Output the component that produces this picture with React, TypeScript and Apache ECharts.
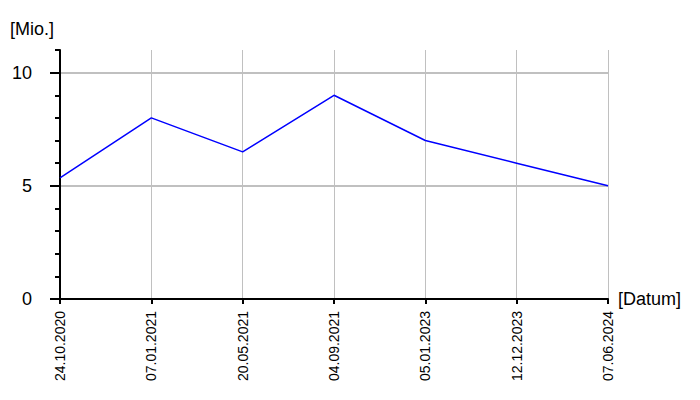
import React, { useEffect, useRef } from "react";
import * as echarts from "echarts";

const categories = ["24.10.2020", "07.01.2021", "20.05.2021", "04.09.2021", "05.01.2023", "12.12.2023", "07.06.2024"];
const values = [5.35, 8, 6.5, 9, 7, 6, 5];
const yMajorTicks = [0, 5, 10];
const yMinorTicks = [1, 2, 3, 4, 6, 7, 8, 9, 11];
const yAxisTitle = "[Mio.]";
const xAxisTitle = "[Datum]";

const FONT = "'Liberation Sans', Arial, sans-serif";

export default function App() {
  const ref = useRef<HTMLDivElement>(null);
  useEffect(() => {
    if (!ref.current) return;
    const chart = echarts.init(ref.current, undefined, { renderer: "svg" });
    chart.setOption({
      animation: false,
      backgroundColor: "#ffffff",
      textStyle: { fontFamily: FONT },
      grid: { left: 60, right: 92, top: 50, bottom: 101, containLabel: false },
      graphic: [
        {
          type: "text",
          left: 10,
          top: 20,
          style: { text: yAxisTitle, font: `18px ${FONT}`, fill: "#000" },
        },
      ],
      xAxis: {
        type: "category",
        data: categories,
        boundaryGap: false,
        name: xAxisTitle,
        nameLocation: "end",
        nameGap: 10,
        nameTextStyle: { fontSize: 18, color: "#000", fontFamily: FONT },
        axisLine: { lineStyle: { color: "#000", width: 2 } },
        axisTick: { show: true, length: 5, lineStyle: { color: "#000", width: 2 } },
        axisLabel: { rotate: 90, margin: 12, fontSize: 14, color: "#000", fontFamily: FONT, interval: 0 },
        splitLine: { show: true, lineStyle: { color: "#c0c0c0", width: 1 } },
      },
      yAxis: [
        {
          type: "value",
          min: 0,
          max: 11,
          interval: 5,
          axisLine: { show: true, lineStyle: { color: "#000", width: 2 } },
          axisTick: { show: true, length: 10, customValues: yMajorTicks, lineStyle: { color: "#000", width: 2 } },
          axisLabel: { customValues: yMajorTicks, margin: 28, fontSize: 18, color: "#000", fontFamily: FONT },
          splitLine: { show: true, lineStyle: { color: "#c0c0c0", width: 2 } },
        },
        {
          type: "value",
          min: 0,
          max: 11,
          interval: 1,
          position: "left",
          axisLine: { show: false },
          axisTick: { show: true, length: 5, customValues: yMinorTicks, lineStyle: { color: "#000", width: 2 } },
          axisLabel: { show: false },
          splitLine: { show: false },
        },
      ],
      series: [
        {
          type: "line",
          data: values,
          yAxisIndex: 0,
          symbol: "none",
          lineStyle: { color: "#0000ff", width: 1.5 },
          z: 5,
        },
      ],
    });
    return () => chart.dispose();
  }, []);
  return <div ref={ref} style={{ width: 700, height: 400, position: "absolute", left: 0, top: 0 }} />;
}
